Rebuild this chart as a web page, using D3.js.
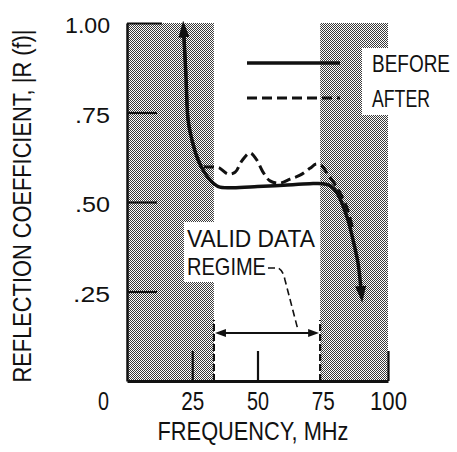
<!DOCTYPE html>
<html>
<head>
<meta charset="utf-8">
<script src="https://cdn.jsdelivr.net/npm/d3@7"></script>
<style>
  body { margin: 0; background: #fff; }
  svg { display: block; }
  text { font-family: "Liberation Sans", Arial, sans-serif; fill: #111; }
</style>
</head>
<body>
<div id="chart"></div>
<script>
// data
let xTicks = [0, 25, 50, 75, 100]
let yTicks = [0.25, 0.5, 0.75, 1.0]
let yTickLabels = [".25", ".50", ".75", "1.00"]

// shaded (invalid) bands and the valid regime, in MHz
let bandLeft = [0, 33.3]
let bandRight = [74, 100]
let validRange = [33.3, 74]

// BEFORE (solid)
let beforeFreq = [21.8, 22.6, 23.4, 25, 27.2, 29.5, 32, 35, 40, 50, 60, 70, 75, 78, 80.5, 84.3, 86.6, 88.5, 89.6]
let beforeR = [0.965, 0.85, 0.73, 0.67, 0.618, 0.585, 0.56, 0.543, 0.54, 0.543, 0.547, 0.551, 0.551, 0.545, 0.525, 0.458, 0.394, 0.33, 0.26]

// AFTER (dashed)
let afterFreq = [21.8, 22.6, 23.4, 25, 27.2, 28.4, 30.5, 32.9, 35.2, 38.7, 41.4, 44, 47.1, 49.5, 52, 54.8, 58.6, 62.5, 66.3, 70.1, 72.5, 74.5, 76.6, 80.5, 84.3, 86.6]
let afterR = [0.965, 0.85, 0.73, 0.67, 0.62, 0.603, 0.598, 0.598, 0.596, 0.578, 0.583, 0.615, 0.637, 0.62, 0.585, 0.559, 0.553, 0.564, 0.575, 0.594, 0.606, 0.602, 0.581, 0.54, 0.483, 0.42]

let width = 457
let height = 452

let plotLeft = 127
let plotRight = 388
let plotTop = 23
let plotBottom = 381

// the scan uses a condensed face, so texts get squeezed to the widths seen in it
let yLabelWidth = {".25": 37, ".50": 35, ".75": 35, "1.00": 45}
let xLabelWidth = {0: 11, 25: 23, 50: 22, 75: 23, 100: 37}

let svg = d3.select("#chart")
    .append("svg")
    .attr("width", width)
    .attr("height", height)

let xScale = d3.scaleLinear().domain([0, 100]).range([plotLeft, plotRight])
let yScale = d3.scaleLinear().domain([0, 1]).range([plotBottom, plotTop])

let defs = svg.append("defs")

// 1px checkerboard like the halftone in the scan
let pat = defs.append("pattern")
    .attr("id", "dither")
    .attr("width", 2)
    .attr("height", 2)
    .attr("patternUnits", "userSpaceOnUse")
pat.append("rect").attr("width", 2).attr("height", 2).attr("fill", "#fff")
pat.append("rect").attr("x", 0).attr("y", 0).attr("width", 1).attr("height", 1).attr("fill", "#3a3a3a")
pat.append("rect").attr("x", 1).attr("y", 1).attr("width", 1).attr("height", 1).attr("fill", "#3a3a3a")

function addArrow(id, w, l){
    defs.append("marker")
        .attr("id", id)
        .attr("markerUnits", "userSpaceOnUse")
        .attr("viewBox", `0 ${-w / 2} ${l} ${w}`)
        .attr("refX", 2)
        .attr("refY", 0)
        .attr("markerWidth", l)
        .attr("markerHeight", w)
        .attr("orient", "auto-start-reverse")
        .append("path")
        .attr("d", `M0,${-w / 2}L${l},0L0,${w / 2}Z`)
        .attr("fill", "#111")
}
addArrow("bigArrow", 11, 17)
addArrow("smallArrow", 8, 11)

// squeeze a text horizontally to width w, keeping its anchor point
function squeeze(sel, w){
    let node = sel.node()
    let natural = node.getComputedTextLength()
    let s = w / natural
    let x = +sel.attr("x") || 0
    let y = +sel.attr("y") || 0
    let t = sel.attr("transform") || ""
    sel.attr("x", 0).attr("y", 0)
        .attr("transform", `${t} translate(${x}, ${y}) scale(${s}, 1)`)
    return sel
}

// shaded bands
let bands = [bandLeft, bandRight]
svg.selectAll(".band")
    .data(bands)
    .enter()
    .append("rect")
    .attr("class", "band")
    .attr("x", d => xScale(d[0]))
    .attr("y", yScale(1))
    .attr("width", d => xScale(d[1]) - xScale(d[0]))
    .attr("height", yScale(0) - yScale(1))
    .attr("fill", "url(#dither)")

// white boxes behind the annotation and legend text
svg.append("rect")
    .attr("x", 184).attr("y", 222)
    .attr("width", xScale(validRange[1]) - 184).attr("height", 60)
    .attr("fill", "#fff")
svg.append("rect")
    .attr("x", 362).attr("y", 48)
    .attr("width", 95).attr("height", 67)
    .attr("fill", "#fff")

// dashed edges of the valid regime
svg.selectAll(".edge")
    .data(validRange)
    .enter()
    .append("line")
    .attr("class", "edge")
    .attr("x1", d => xScale(d)).attr("x2", d => xScale(d))
    .attr("y1", yScale(0)).attr("y2", 320)
    .attr("stroke", "#111")
    .attr("stroke-width", 2.2)
    .attr("stroke-dasharray", "7,3")

// axes
let yAxis = d3.axisLeft(yScale)
    .tickValues(yTicks)
    .tickFormat((d, i) => yTickLabels[i])
    .tickSize(-30)
    .tickSizeOuter(0)
    .tickPadding(17)

let yAxisG = svg.append("g")
    .attr("transform", `translate(${plotLeft}, 0)`)
    .call(yAxis)
yAxisG.select(".domain").attr("stroke", "#111").attr("stroke-width", 2.5)
yAxisG.selectAll(".tick line").attr("stroke", "#111").attr("stroke-width", 2.2)
yAxisG.selectAll(".tick").filter(d => d === 1).select("line").attr("x2", 35)
yAxisG.selectAll(".tick text")
    .attr("font-size", 22)
    .attr("dy", "0.45em")
    .style("font-family", "'Liberation Sans', Arial, sans-serif")
    .attr("fill", "#111")
    .each(function(d, i){ squeeze(d3.select(this), yLabelWidth[yTickLabels[i]]) })

let xAxis = d3.axisBottom(xScale)
    .tickValues(xTicks)
    .tickFormat(d3.format("d"))
    .tickSize(-30)
    .tickSizeOuter(0)
    .tickPadding(11)

let xAxisG = svg.append("g")
    .attr("transform", `translate(0, ${plotBottom})`)
    .call(xAxis)
xAxisG.select(".domain").attr("stroke", "#111").attr("stroke-width", 3)
xAxisG.selectAll(".tick line").attr("stroke", "#111").attr("stroke-width", 2.2)
xAxisG.selectAll(".tick").filter(d => d === 0 || d === 75).select("line").remove()
// the zero sits left of the axis line in the original
xAxisG.selectAll(".tick").filter(d => d === 0).select("text").attr("x", -24)
xAxisG.selectAll(".tick text")
    .attr("font-size", 25)
    .style("font-family", "'Liberation Sans', Arial, sans-serif")
    .attr("fill", "#111")
    .each(function(d){ squeeze(d3.select(this), xLabelWidth[d]) })

// axis titles
squeeze(svg.append("text")
    .attr("x", 253)
    .attr("y", 440)
    .attr("text-anchor", "middle")
    .attr("font-size", 26)
    .text("FREQUENCY,  MHz"), 191)

squeeze(svg.append("text")
    .attr("transform", `translate(31, 206) rotate(-90)`)
    .attr("text-anchor", "middle")
    .attr("font-size", 26)
    .text("REFLECTION COEFFICIENT, |R (f)|"), 353)

// curves
let line = d3.line()
    .x(d => xScale(d[0]))
    .y(d => yScale(d[1]))
    .curve(d3.curveCatmullRom.alpha(0.5))

let beforeData = beforeFreq.map((f, i) => [f, beforeR[i]])
let afterData = afterFreq.map((f, i) => [f, afterR[i]])

svg.append("path")
    .datum(afterData)
    .attr("d", line)
    .attr("fill", "none")
    .attr("stroke", "#111")
    .attr("stroke-width", 3)
    .attr("stroke-dasharray", "10,5")

svg.append("path")
    .datum(beforeData)
    .attr("d", line)
    .attr("fill", "none")
    .attr("stroke", "#111")
    .attr("stroke-width", 3.5)
    .attr("marker-start", "url(#bigArrow)")
    .attr("marker-end", "url(#bigArrow)")

// legend
let legendItems = ["BEFORE", "AFTER"]
let legendY = [63, 98]
let legendWidth = [78, 58]
let legend = svg.selectAll(".legend")
    .data(legendItems)
    .enter()
    .append("g")
    .attr("class", "legend")
    .attr("transform", (d, i) => `translate(0, ${legendY[i]})`)
legend.append("line")
    .attr("x1", 247).attr("x2", 340)
    .attr("stroke", "#111")
    .attr("stroke-width", (d, i) => i === 0 ? 3.5 : 3)
    .attr("stroke-dasharray", (d, i) => i === 0 ? null : "10,5")
legend.append("text")
    .attr("x", 372)
    .attr("y", 9)
    .attr("font-size", 23)
    .text(d => d)
    .each(function(d, i){ squeeze(d3.select(this), legendWidth[i]) })

// valid data regime annotation
squeeze(svg.append("text")
    .attr("x", 187).attr("y", 247)
    .attr("font-size", 24)
    .text("VALID DATA"), 128)
squeeze(svg.append("text")
    .attr("x", 187).attr("y", 275)
    .attr("font-size", 24)
    .text("REGIME"), 79)

svg.append("path")
    .attr("d", "M268,268 L278,268 Q283,270 285,280 L298,330")
    .attr("fill", "none")
    .attr("stroke", "#111")
    .attr("stroke-width", 1.6)
    .attr("stroke-dasharray", "7,4")

svg.append("line")
    .attr("x1", xScale(validRange[0]) + 10)
    .attr("x2", xScale(validRange[1]) - 10)
    .attr("y1", 333).attr("y2", 333)
    .attr("stroke", "#111")
    .attr("stroke-width", 2)
    .attr("marker-start", "url(#smallArrow)")
    .attr("marker-end", "url(#smallArrow)")
</script>
</body>
</html>
